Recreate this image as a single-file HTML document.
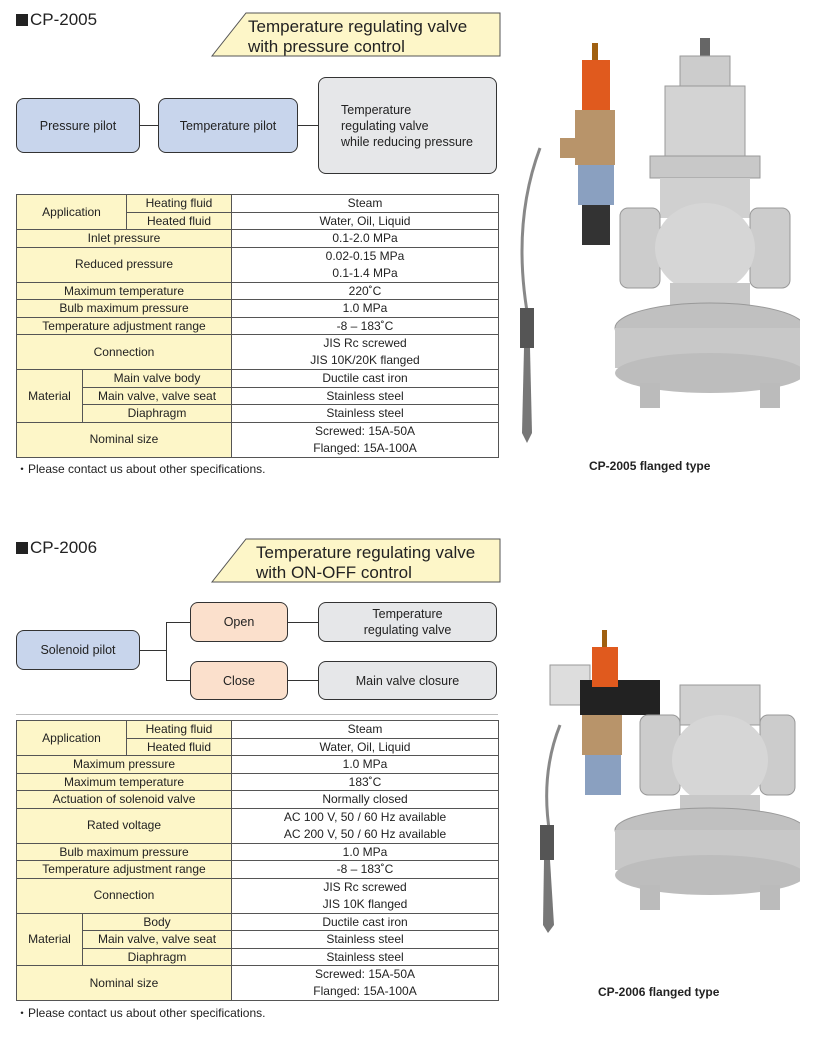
<!DOCTYPE html>
<html><head><meta charset="utf-8"><style>
body{margin:0;background:#fff;width:840px;height:1056px;position:relative;overflow:hidden;font-family:"Liberation Sans",Arial,sans-serif;color:#222}
.a{position:absolute}
.h{font-size:17px;font-weight:normal;color:#222}
.h span{display:inline-block;width:12px;height:12px;background:#222;margin-right:2px;vertical-align:-1px}
.box{position:absolute;border:1.3px solid #333;border-radius:8px;box-sizing:border-box;display:flex;align-items:center;justify-content:center;font-size:12.5px;text-align:center;line-height:16px}
.blue{background:#c8d5ec}.gray{background:#e6e7e9}.or{background:#fbe0cc}
.ln{position:absolute;background:#333}
table{position:absolute;border-collapse:collapse;table-layout:fixed;font-size:12px;left:16px;width:482px}
td{border:1px solid #555;height:16.5px;padding:0;text-align:center;line-height:16px;white-space:nowrap;overflow:hidden}
td.d{height:34px;line-height:17px}
td.y{background:#fdf6c8}
.note{font-size:12px}
.cap{font-size:12px;font-weight:bold}
</style></head><body>

<div class="a h" style="left:16px;top:10px"><span></span>CP-2005</div>
<svg class="a" style="left:210px;top:12px" width="292" height="46"><polygon points="36,1 290,1 290,44 2,44" fill="#fdf6c8" stroke="#555" stroke-width="1"/><text x="38" y="20" font-size="17" font-family="Liberation Sans" fill="#222">Temperature regulating valve</text><text x="38" y="40" font-size="17" font-family="Liberation Sans" fill="#222">with pressure control</text></svg>

<div class="ln" style="left:139px;top:125px;width:20px;height:1.3px"></div>
<div class="ln" style="left:297px;top:125px;width:22px;height:1.3px"></div>
<div class="box blue" style="left:16px;top:98px;width:124px;height:55px">Pressure pilot</div>
<div class="box blue" style="left:158px;top:98px;width:140px;height:55px">Temperature pilot</div>
<div class="box gray" style="left:318px;top:77px;width:179px;height:97px;justify-content:flex-start;text-align:left;padding-left:22px">Temperature<br>regulating valve<br>while reducing pressure</div>

<table style="top:194px">
<colgroup><col style="width:66px"><col style="width:44px"><col style="width:105px"><col style="width:267px"></colgroup>
<tr><td class="y" colspan="2" rowspan="2">Application</td><td class="y">Heating fluid</td><td>Steam</td></tr>
<tr><td class="y">Heated fluid</td><td>Water, Oil, Liquid</td></tr>
<tr><td class="y" colspan="3">Inlet pressure</td><td>0.1-2.0 MPa</td></tr>
<tr><td class="y d" colspan="3">Reduced pressure</td><td class="d">0.02-0.15 MPa<br>0.1-1.4 MPa</td></tr>
<tr><td class="y" colspan="3">Maximum temperature</td><td>220˚C</td></tr>
<tr><td class="y" colspan="3">Bulb maximum pressure</td><td>1.0 MPa</td></tr>
<tr><td class="y" colspan="3">Temperature adjustment range</td><td>-8 – 183˚C</td></tr>
<tr><td class="y d" colspan="3">Connection</td><td class="d">JIS Rc screwed<br>JIS 10K/20K flanged</td></tr>
<tr><td class="y" rowspan="3">Material</td><td class="y" colspan="2">Main valve body</td><td>Ductile cast iron</td></tr>
<tr><td class="y" colspan="2">Main valve, valve seat</td><td>Stainless steel</td></tr>
<tr><td class="y" colspan="2">Diaphragm</td><td>Stainless steel</td></tr>
<tr><td class="y d" colspan="3">Nominal size</td><td class="d">Screwed: 15A-50A<br>Flanged: 15A-100A</td></tr>
</table>
<div class="a note" style="left:16px;top:460px">・Please contact us about other specifications.</div>

<svg class="a" style="left:500px;top:28px" width="300" height="420">
<path d="M40 120 Q10 200 30 300" stroke="#888" stroke-width="3" fill="none"/>
<rect x="20" y="280" width="14" height="40" fill="#555"/>
<polygon points="24,320 30,320 32,405 27,415 22,405" fill="#777"/>
<rect x="200" y="10" width="10" height="20" fill="#666"/>
<rect x="180" y="28" width="50" height="30" fill="#ccc" stroke="#999"/>
<rect x="165" y="58" width="80" height="70" fill="#d3d3d3" stroke="#999"/>
<rect x="150" y="128" width="110" height="22" fill="#c8c8c8" stroke="#999"/>
<rect x="160" y="150" width="90" height="40" fill="#d0d0d0"/>
<rect x="120" y="180" width="40" height="80" rx="8" fill="#ccc" stroke="#999"/>
<rect x="250" y="180" width="40" height="80" rx="8" fill="#ccc" stroke="#999"/>
<ellipse cx="205" cy="220" rx="50" ry="45" fill="#d6d6d6"/>
<rect x="170" y="255" width="80" height="30" fill="#c8c8c8"/>
<ellipse cx="210" cy="300" rx="95" ry="25" fill="#c0c0c0" stroke="#999"/>
<rect x="115" y="300" width="190" height="40" fill="#c8c8c8"/>
<ellipse cx="210" cy="345" rx="95" ry="20" fill="#bdbdbd"/>
<rect x="140" y="355" width="20" height="25" fill="#bbb"/><rect x="260" y="355" width="20" height="25" fill="#bbb"/>
<rect x="92" y="15" width="6" height="18" fill="#a06010"/>
<rect x="82" y="32" width="28" height="50" fill="#e05a1e"/>
<rect x="75" y="82" width="40" height="55" fill="#b8946a"/>
<rect x="60" y="110" width="30" height="20" fill="#b8946a"/>
<rect x="78" y="137" width="36" height="40" fill="#8aa0c0"/>
<rect x="82" y="177" width="28" height="40" fill="#333"/>
</svg>
<div class="a cap" style="left:589px;top:459px">CP-2005 flanged type</div>

<div class="a h" style="left:16px;top:538px"><span></span>CP-2006</div>
<svg class="a" style="left:210px;top:538px" width="292" height="46"><polygon points="36,1 290,1 290,44 2,44" fill="#fdf6c8" stroke="#555" stroke-width="1"/><text x="46" y="20" font-size="17" font-family="Liberation Sans" fill="#222">Temperature regulating valve</text><text x="46" y="40" font-size="17" font-family="Liberation Sans" fill="#222">with ON-OFF control</text></svg>

<div class="ln" style="left:139px;top:650px;width:27px;height:1.3px"></div>
<div class="ln" style="left:166px;top:622px;width:1.3px;height:59px"></div>
<div class="ln" style="left:166px;top:622px;width:25px;height:1.3px"></div>
<div class="ln" style="left:166px;top:680px;width:25px;height:1.3px"></div>
<div class="ln" style="left:287px;top:622px;width:32px;height:1.3px"></div>
<div class="ln" style="left:287px;top:680px;width:32px;height:1.3px"></div>
<div class="box blue" style="left:16px;top:630px;width:124px;height:40px">Solenoid pilot</div>
<div class="box or" style="left:190px;top:602px;width:98px;height:40px">Open</div>
<div class="box or" style="left:190px;top:661px;width:98px;height:39px">Close</div>
<div class="box gray" style="left:318px;top:602px;width:179px;height:40px">Temperature<br>regulating valve</div>
<div class="box gray" style="left:318px;top:661px;width:179px;height:39px">Main valve closure</div>
<div class="a" style="left:16px;top:714px;width:482px;height:1px;background:#bbb"></div>

<table style="top:720px">
<colgroup><col style="width:66px"><col style="width:44px"><col style="width:105px"><col style="width:267px"></colgroup>
<tr><td class="y" colspan="2" rowspan="2">Application</td><td class="y">Heating fluid</td><td>Steam</td></tr>
<tr><td class="y">Heated fluid</td><td>Water, Oil, Liquid</td></tr>
<tr><td class="y" colspan="3">Maximum pressure</td><td>1.0 MPa</td></tr>
<tr><td class="y" colspan="3">Maximum temperature</td><td>183˚C</td></tr>
<tr><td class="y" colspan="3">Actuation of solenoid valve</td><td>Normally closed</td></tr>
<tr><td class="y d" colspan="3">Rated voltage</td><td class="d">AC 100 V, 50 / 60 Hz available<br>AC 200 V, 50 / 60 Hz available</td></tr>
<tr><td class="y" colspan="3">Bulb maximum pressure</td><td>1.0 MPa</td></tr>
<tr><td class="y" colspan="3">Temperature adjustment range</td><td>-8 – 183˚C</td></tr>
<tr><td class="y d" colspan="3">Connection</td><td class="d">JIS Rc screwed<br>JIS 10K flanged</td></tr>
<tr><td class="y" rowspan="3">Material</td><td class="y" colspan="2">Body</td><td>Ductile cast iron</td></tr>
<tr><td class="y" colspan="2">Main valve, valve seat</td><td>Stainless steel</td></tr>
<tr><td class="y" colspan="2">Diaphragm</td><td>Stainless steel</td></tr>
<tr><td class="y d" colspan="3">Nominal size</td><td class="d">Screwed: 15A-50A<br>Flanged: 15A-100A</td></tr>
</table>
<div class="a note" style="left:16px;top:1004px">・Please contact us about other specifications.</div>

<svg class="a" style="left:510px;top:625px" width="290" height="310">
<path d="M50 100 Q30 150 40 210" stroke="#888" stroke-width="3" fill="none"/>
<rect x="30" y="200" width="14" height="35" fill="#555"/>
<polygon points="34,235 40,235 44,300 38,308 33,300" fill="#777"/>
<rect x="40" y="40" width="40" height="40" fill="#ddd" stroke="#999"/>
<rect x="70" y="55" width="80" height="35" fill="#222"/>
<rect x="92" y="5" width="5" height="18" fill="#a06010"/>
<rect x="82" y="22" width="26" height="40" fill="#e05a1e"/>
<rect x="72" y="90" width="40" height="40" fill="#b8946a"/>
<rect x="75" y="130" width="36" height="40" fill="#8aa0c0"/>
<rect x="170" y="60" width="80" height="40" fill="#d0d0d0" stroke="#999"/>
<rect x="130" y="90" width="40" height="80" rx="8" fill="#ccc" stroke="#999"/>
<rect x="250" y="90" width="35" height="80" rx="8" fill="#ccc" stroke="#999"/>
<ellipse cx="210" cy="135" rx="48" ry="45" fill="#d6d6d6"/>
<rect x="170" y="170" width="80" height="25" fill="#c8c8c8"/>
<ellipse cx="200" cy="205" rx="95" ry="22" fill="#c0c0c0" stroke="#999"/>
<rect x="105" y="205" width="190" height="40" fill="#c8c8c8"/>
<ellipse cx="200" cy="250" rx="95" ry="20" fill="#bdbdbd"/>
<rect x="130" y="260" width="20" height="25" fill="#bbb"/><rect x="250" y="260" width="20" height="25" fill="#bbb"/>
</svg>
<div class="a cap" style="left:598px;top:985px">CP-2006 flanged type</div>
</body></html>
